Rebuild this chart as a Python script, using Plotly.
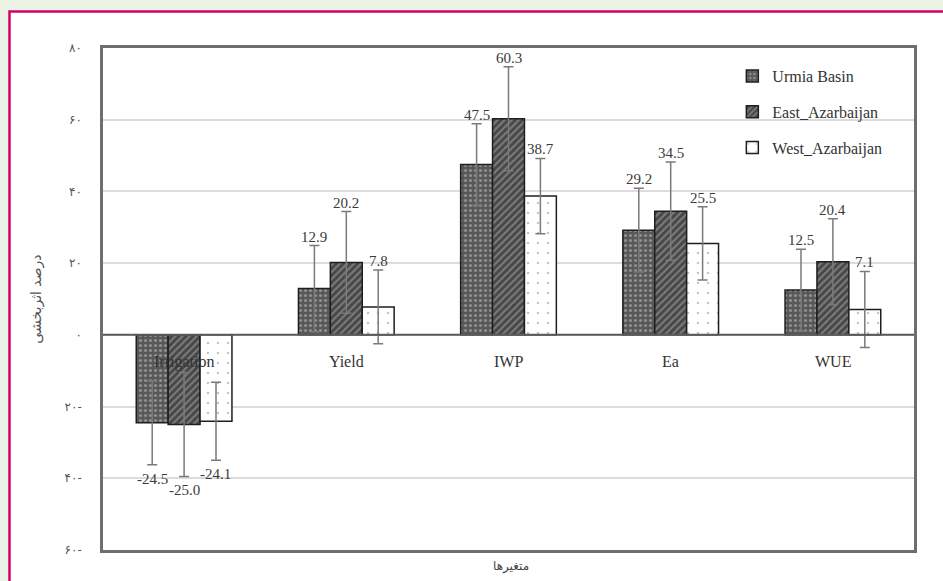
import plotly.graph_objects as go

# Relative change (%) by indicator and region
categories = ["Irrigation", "Yield", "IWP", "Ea", "WUE"]
series_names = ["Urmia Basin", "East_Azarbaijan", "West_Azarbaijan"]
urmia = [-24.5, 12.9, 47.5, 29.2, 12.5]
east = [-25.0, 20.2, 60.3, 34.5, 20.4]
west = [-24.1, 7.8, 38.7, 25.5, 7.1]
urmia_err = [11.7, 12.0, 11.4, 11.7, 11.4]
east_err = [14.5, 14.2, 14.5, 13.7, 12.0]
west_err = [10.9, 10.3, 10.5, 10.2, 10.6]

y_ticks = [80, 60, 40, 20, 0, -20, -40, -60]
y_tick_text = ["۸۰", "۶۰", "۴۰", "۲۰", "۰", "۲۰-", "۴۰-", "۶۰-"]
y_title = "درصد اثربخشی"
x_title = "متغیرها"

values = [urmia, east, west]
errors = [urmia_err, east_err, west_err]
patterns = [
    dict(shape=".", bgcolor="#585858", fgcolor="#c8c8c8", size=5, solidity=0.3),
    dict(shape="/", bgcolor="#484848", fgcolor="#b4b4b4", size=5, solidity=0.4),
    dict(shape=".", bgcolor="#ffffff", fgcolor="#8a8a8a", size=10, solidity=0.05),
]

serif = "Liberation Serif, Times New Roman, serif"
fig = go.Figure()
for i, name in enumerate(series_names):
    fig.add_trace(go.Bar(
        x=categories, y=values[i], name=name, legendgroup=name,
        marker=dict(color=patterns[i]["bgcolor"], pattern=patterns[i],
                    line=dict(color="#1e1e1e", width=1.5)),
        error_y=dict(type="data", array=errors[i], visible=True,
                     color="#7a7a7a", thickness=1.5, width=5),
    ))

# value labels beyond the error caps
bar_px = 162 * (1 - 0.41) / 3
annotations = []
for i in range(3):
    for c, v, e in zip(categories, values[i], errors[i]):
        if v >= 0:
            y, shift = v + e, 9
        else:
            y, shift = v - e, -14
        annotations.append(dict(
            x=c, y=y, xref="x", yref="y", text=f"{v:.1f}", showarrow=False,
            xshift=(i - 1) * bar_px, yshift=shift,
            font=dict(family=serif, size=15, color="#3a3a3a"),
        ))

# category names along the zero line
for c in categories:
    annotations.append(dict(
        x=c, y=0, xref="x", yref="y", text=c, showarrow=False,
        yanchor="top", yshift=-16,
        font=dict(family=serif, size=16, color="#333333"),
    ))

annotations.append(dict(
    x=-0.083, y=0.5, xref="paper", yref="paper", text=y_title,
    textangle=-90, showarrow=False, xanchor="center", yanchor="middle",
    font=dict(family="DejaVu Sans", size=14, color="#555555"),
))
annotations.append(dict(
    x=0.503, y=-0.032, xref="paper", yref="paper", text=x_title,
    showarrow=False, xanchor="center", yanchor="middle",
    font=dict(family="DejaVu Sans", size=12, color="#444444"),
))

shapes = [
    # framed white panel
    dict(type="rect", xref="paper", yref="paper", layer="below",
         x0=-0.1153, x1=1.045, y0=-0.075, y1=1.0727,
         fillcolor="white", line=dict(color="#d3006b", width=2.5)),
    # zero line
    dict(type="line", xref="paper", yref="y", x0=0, x1=1, y0=0, y1=0,
         line=dict(color="#5a5a5a", width=2)),
]

fig.update_layout(
    width=943, height=581,
    margin=dict(l=103, r=29, t=48, b=31),
    paper_bgcolor="#edf3e4", plot_bgcolor="white",
    font=dict(family=serif, size=15, color="#333333"),
    barmode="group", bargap=0.41, bargroupgap=0,
    showlegend=True,
    legend=dict(x=0.776, y=0.978, xanchor="left", yanchor="top",
                bgcolor="rgba(0,0,0,0)", tracegroupgap=12,
                itemwidth=30,
                font=dict(family=serif, size=16, color="#333333")),
    annotations=annotations, shapes=shapes,
)
fig.update_xaxes(showticklabels=False, showgrid=False, zeroline=False,
                 showline=True, mirror=True, linecolor="#6e6e6e", linewidth=2.5,
                 ticks="")
fig.update_yaxes(range=[-60, 80], tickvals=y_ticks, ticktext=y_tick_text,
                 showgrid=True, gridcolor="#dcdcdc", gridwidth=1.5,
                 zeroline=False, showline=True, mirror=True,
                 linecolor="#6e6e6e", linewidth=2.5, ticks="",
                 ticklabelstandoff=16,
                 tickfont=dict(family="DejaVu Sans", size=12, color="#555555"))

fig.write_html("out.html")
